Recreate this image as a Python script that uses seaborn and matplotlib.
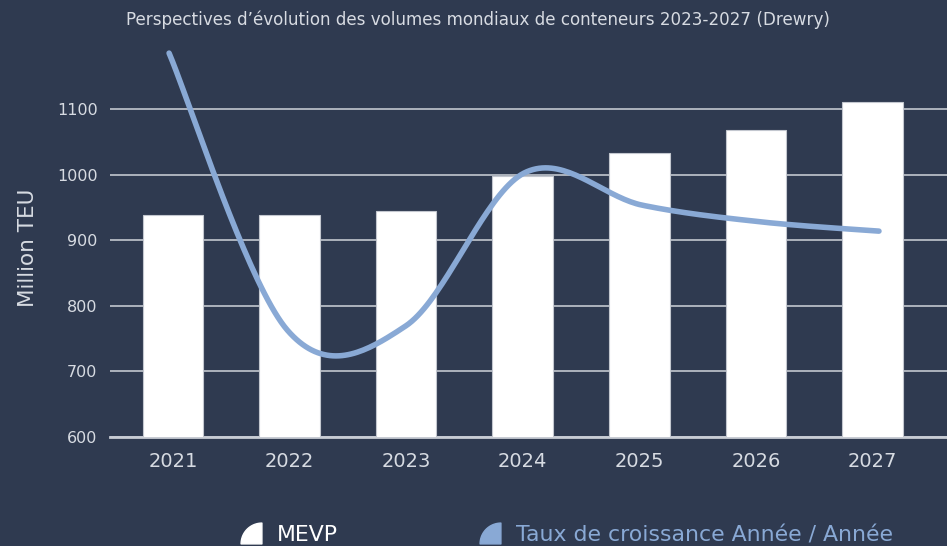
import numpy as np
import pandas as pd
import matplotlib
matplotlib.use("Agg")
import matplotlib.pyplot as plt
from matplotlib.lines import Line2D
from matplotlib.path import Path
import seaborn as sns

# values
years = ["2021", "2022", "2023", "2024", "2025", "2026", "2027"]
volume_teu = [938, 938, 945, 998, 1033, 1068, 1110]          # Million TEU (bars)
growth_pct = [6.92, -0.24, -0.13, 3.82, 2.99, 2.56, 2.32]    # y/y growth (line, hidden axis)
y_ticks = [600, 700, 800, 900, 1000, 1100]

BG = "#2f3a50"
LINE = "#89a9d5"
TXT = "#d7dbe2"
GRID = "#cfd3da"
AX_POS = [0.1162, 0.1996, 0.8838, 0.7088]


def smooth_line(x, y, n=40):
    # bezier "smoothed line" (control points at 1/6 of the neighbour span)
    p = np.column_stack([x, y]).astype(float)
    k = len(p)
    t = np.linspace(0, 1, n)[:, None]
    out = []
    for i in range(k - 1):
        p0 = p[i - 1] if i > 0 else p[i]
        p3 = p[i + 2] if i + 2 < k else p[i + 1]
        b1 = p[i] + (p[i + 1] - p0) / 6
        b2 = p[i + 1] - (p3 - p[i]) / 6
        out.append((1 - t) ** 3 * p[i] + 3 * (1 - t) ** 2 * t * b1
                   + 3 * (1 - t) * t ** 2 * b2 + t ** 3 * p[i + 1])
    out = np.vstack(out)
    return out[:, 0], out[:, 1]


df = pd.DataFrame({"year": years, "volume": volume_teu, "growth": growth_pct})

sns.set_theme(style="dark")
plt.rcParams["font.family"] = ["DejaVu Sans"]

fig = plt.figure(figsize=(9.47, 5.46), dpi=100, facecolor=BG)
ax = fig.add_axes(AX_POS)
ax.set_facecolor(BG)

sns.barplot(data=df, x="year", y="volume", color="white", width=0.52,
            edgecolor="#c3c7cf", linewidth=0.8, saturation=1, ax=ax, zorder=3)

ax.set_ylim(600, 1190)
ax.set_xlim(-0.54, 6.64)
ax.set_yticks(y_ticks)
ax.yaxis.grid(True, color=GRID, linewidth=1.1)
ax.xaxis.grid(False)
ax.set_axisbelow(True)
for side in ["top", "right", "left"]:
    ax.spines[side].set_visible(False)
ax.spines["bottom"].set_color("#c8ccd4")
ax.spines["bottom"].set_linewidth(2)
ax.tick_params(axis="y", length=0, pad=9, labelsize=11.5, labelcolor=TXT)
ax.tick_params(axis="x", length=0, pad=11, labelsize=14, labelcolor=TXT)
ax.set_xlabel("")
ax.set_ylabel("Million TEU", fontsize=15.5, color=TXT)
ax.yaxis.set_label_coords(-0.086, 0.49)

# growth line on a hidden overlay axis (its category spacing is a bit wider)
ax2 = fig.add_axes(AX_POS, frameon=False)
sx, sy = smooth_line(np.arange(len(years)), df["growth"].to_numpy())
sns.lineplot(x=sx, y=sy, sort=False, color=LINE, linewidth=4, ax=ax2,
             clip_on=False)
ax2.set_xlim(-0.499, 6.575)
ax2.set_ylim(-3, 7)
ax2.axis("off")

fig.text(0.505, 0.963, "Perspectives d\u2019évolution des volumes mondiaux de conteneurs 2023-2027 (Drewry)",
         ha="center", va="center", fontsize=12.1, color=TXT)

# legend with quarter-circle markers
theta = np.linspace(np.pi / 2, np.pi, 24)
arc = np.column_stack([1 + np.cos(theta), np.sin(theta)])
verts = np.vstack([[0, 0], [1, 0], [1, 1], arc[1:], [0, 0]]) * 2 - 1
codes = [Path.MOVETO] + [Path.LINETO] * (len(verts) - 2) + [Path.CLOSEPOLY]
wedge = Path(verts, codes)
handles = [
    Line2D([], [], marker=wedge, linestyle="none", markersize=15,
           markerfacecolor="white", markeredgecolor="white"),
    Line2D([], [], marker=wedge, linestyle="none", markersize=15,
           markerfacecolor=LINE, markeredgecolor=LINE),
]
leg = fig.legend(handles, ["MEVP", "Taux de croissance Année / Année"],
                 loc="center", bbox_to_anchor=(0.598, 0.02), ncol=2,
                 frameon=False, fontsize=15.8, handletextpad=0.7,
                 columnspacing=6.4, handlelength=1.0)
for t, c in zip(leg.get_texts(), ["white", LINE]):
    t.set_color(c)

fig.savefig("out.png", dpi=100, facecolor=BG)
